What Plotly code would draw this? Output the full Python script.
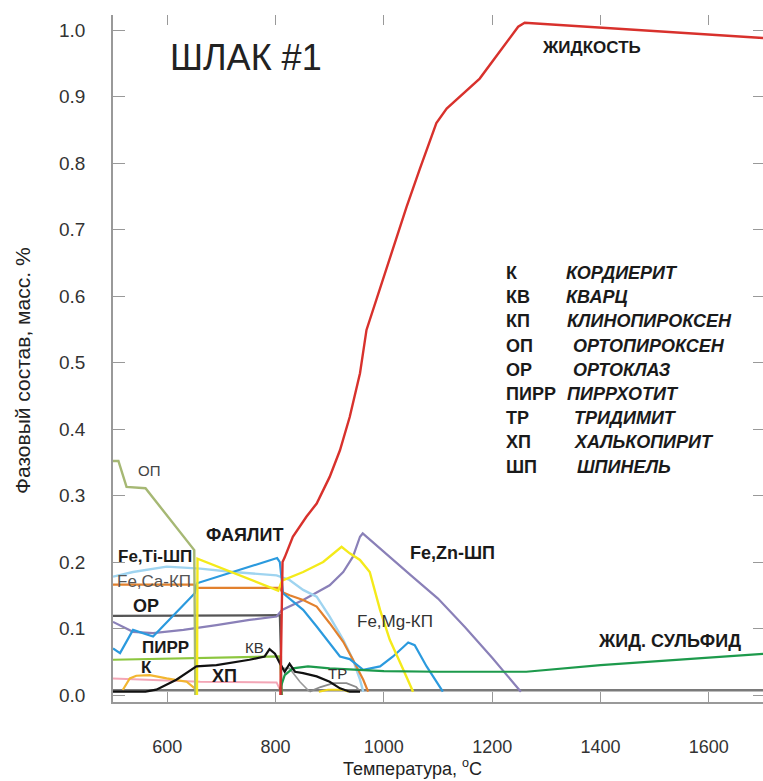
import plotly.graph_objects as go

# ---------------- data (temperature °C, phase fraction) ----------------
T_liquid = [809, 811, 813, 817, 832, 857, 876, 900, 919, 937, 956, 968, 974, 993, 1017, 1042, 1066, 1097, 1116, 1153, 1177, 1248, 1260, 1700]
V_liquid = [0.0, 0.10, 0.200, 0.207, 0.238, 0.268, 0.288, 0.328, 0.368, 0.418, 0.484, 0.549, 0.564, 0.609, 0.669, 0.734, 0.790, 0.860, 0.882, 0.910, 0.927, 1.005, 1.011, 0.988]

T_opx = [500, 510, 525, 560, 650, 651, 652]
V_opx = [0.352, 0.352, 0.313, 0.311, 0.218, 0.10, 0.0]

T_fayalite = [655, 656, 805, 812, 851, 888, 922, 937, 956, 974, 993, 1011, 1036, 1054]
V_fayalite = [0.0, 0.205, 0.157, 0.172, 0.185, 0.200, 0.223, 0.213, 0.203, 0.185, 0.128, 0.083, 0.038, 0.005]

T_femgcpx = [500, 513, 537, 574, 651, 655, 803, 808, 814, 826, 851, 876, 900, 919, 937, 962, 993, 1017, 1045, 1057, 1079, 1097, 1109]
V_femgcpx = [0.070, 0.063, 0.098, 0.088, 0.153, 0.168, 0.206, 0.200, 0.153, 0.145, 0.128, 0.103, 0.078, 0.058, 0.054, 0.038, 0.043, 0.058, 0.079, 0.075, 0.043, 0.020, 0.005]

T_fetisp = [500, 537, 599, 661, 722, 802, 826, 851, 876, 900, 925, 943, 956, 962]
V_fetisp = [0.178, 0.185, 0.193, 0.190, 0.185, 0.180, 0.173, 0.158, 0.148, 0.118, 0.083, 0.053, 0.023, 0.005]

T_fecacpx = [500, 650, 653, 808, 812, 826, 851, 876, 900, 925, 943, 962, 971]
V_fecacpx = [0.166, 0.166, 0.161, 0.161, 0.155, 0.150, 0.143, 0.133, 0.108, 0.080, 0.053, 0.023, 0.005]

T_feznsp = [500, 525, 537, 574, 630, 691, 752, 802, 812, 851, 900, 925, 943, 956, 961, 1050, 1100, 1150, 1200, 1253]
V_feznsp = [0.110, 0.100, 0.095, 0.093, 0.098, 0.105, 0.113, 0.118, 0.128, 0.143, 0.165, 0.185, 0.208, 0.238, 0.243, 0.180, 0.145, 0.102, 0.056, 0.005]

T_sulfide = [808, 817, 832, 860, 900, 1000, 1100, 1263, 1400, 1550, 1700]
V_sulfide = [0.0075, 0.030, 0.040, 0.043, 0.040, 0.036, 0.035, 0.035, 0.045, 0.054, 0.062]

T_pyrr = [500, 808, 810, 812]
V_pyrr = [0.053, 0.058, 0.030, 0.0]

T_chp = [500, 560, 580, 617, 654, 691, 752, 780, 789, 799, 808, 817, 826, 836, 851, 876, 900, 919, 937, 956]
V_chp = [0.005, 0.005, 0.008, 0.023, 0.043, 0.045, 0.053, 0.058, 0.069, 0.062, 0.048, 0.035, 0.047, 0.035, 0.033, 0.028, 0.020, 0.010, 0.005, 0.005]

T_ortho = [500, 808, 810, 811]
V_ortho = [0.119, 0.120, 0.060, 0.0]

T_pink = [500, 568, 661, 802, 810]
V_pink = [0.025, 0.023, 0.020, 0.019, 0.005]

T_cord = [518, 531, 543, 568, 599, 636, 651]
V_cord = [0.0075, 0.025, 0.029, 0.030, 0.025, 0.020, 0.010]

T_grey2 = [808, 826, 845, 863]
V_grey2 = [0.040, 0.040, 0.020, 0.005]

T_trid = [863, 883, 907, 931, 949, 956]
V_trid = [0.005, 0.012, 0.018, 0.018, 0.012, 0.005]

T_yel2 = [880, 897, 925, 935]
V_yel2 = [0.005, 0.008, 0.008, 0.005]

T_base = [500, 1700]
V_base = [0.007, 0.007]

x_ticks = [600, 800, 1000, 1200, 1400, 1600]
y_ticks = [0.0, 0.1, 0.2, 0.3, 0.4, 0.5, 0.6, 0.7, 0.8, 0.9, 1.0]

abbr = ["К", "КВ", "КП", "ОП", "ОР", "ПИРР", "ТР", "ХП", "ШП"]
names = ["КОРДИЕРИТ", "КВАРЦ", "КЛИНОПИРОКСЕН", "ОРТОПИРОКСЕН", "ОРТОКЛАЗ",
         "ПИРРХОТИТ", "ТРИДИМИТ", "ХАЛЬКОПИРИТ", "ШПИНЕЛЬ"]

FONT = "Liberation Sans, Arial, sans-serif"

fig = go.Figure()

def line(x, y, color, width=2.2):
    fig.add_trace(go.Scatter(x=x, y=y, mode="lines", line=dict(color=color, width=width),
                             showlegend=False, hoverinfo="skip"))

line(T_base, V_base, "#7a7a7a", 2.5)
line(T_pink, V_pink, "#f3a6b6", 2)
line(T_cord, V_cord, "#f2b630", 2.2)
line(T_grey2, V_grey2, "#9a9a9a", 1.6)
line(T_trid, V_trid, "#8a8a8a", 1.8)
line(T_yel2, V_yel2, "#f2d81a", 2)
line(T_pyrr, V_pyrr, "#8cc63e", 2.2)
line(T_ortho, V_ortho, "#555555", 2.2)
line(T_feznsp, V_feznsp, "#8a80b8", 2.2)
line(T_fetisp, V_fetisp, "#9fd4f0", 2.4)
line(T_fecacpx, V_fecacpx, "#e2812e", 2.2)
line(T_femgcpx, V_femgcpx, "#2b9ade", 2.2)
line(T_opx, V_opx, "#a6b874", 2.4)
line(T_fayalite, V_fayalite, "#f4ea1a", 2.4)
line(T_sulfide, V_sulfide, "#1d9a4c", 2.2)
line(T_chp, V_chp, "#111111", 2.2)
line(T_liquid, V_liquid, "#d8312c", 2.4)

# dummy trace for mirrored tick axes
fig.add_trace(go.Scatter(x=[None], y=[None], xaxis="x2", yaxis="y2", showlegend=False, hoverinfo="skip"))

ann = []
def label(x, y, text, size=17, bold=True, color="#1a1a1a", xanchor="center", italic=False):
    t = text
    if italic:
        t = "<i>" + t + "</i>"
    if bold:
        t = "<b>" + t + "</b>"
    ann.append(dict(x=x, y=y, xref="x", yref="y", text=t, showarrow=False, xanchor=xanchor,
                    yanchor="middle", borderpad=0, font=dict(family=FONT, size=size, color=color)))

label(745, 0.959, "ШЛАК #1", size=36, bold=False, color="#222")
label(1384, 0.973, "ЖИДКОСТЬ", size=17)
label(566, 0.338, "ОП", size=15, bold=False, color="#444")
label(743, 0.241, "ФАЯЛИТ", size=18)
label(577, 0.209, "Fe,Ti-ШП", size=17)
label(575, 0.170, "Fe,Ca-КП", size=17, bold=False, color="#555")
label(560, 0.134, "ОР", size=18)
label(597, 0.071, "ПИРР", size=17)
label(562, 0.041, "К", size=17)
label(706, 0.029, "ХП", size=18)
label(762, 0.072, "КВ", size=15, bold=False, color="#333")
label(915, 0.032, "ТР", size=15, bold=False, color="#333")
label(1020, 0.111, "Fe,Mg-КП", size=17, bold=False, color="#333")
label(1127, 0.214, "Fe,Zn-ШП", size=18)
label(1528, 0.081, "ЖИД. СУЛЬФИД", size=18)

name_x = [1334, 1334, 1337, 1347, 1347, 1336, 1349, 1349, 1354]
for i, (a, n) in enumerate(zip(abbr, names)):
    yv = (695 - (273 + 24.2 * i)) / 665
    label(1224, yv, a, size=18, xanchor="left")
    label(name_x[i], yv, n, size=18, italic=True, xanchor="left")

# axis titles
ann.append(dict(x=0.0, y=0.5, xref="paper", yref="paper", text="Фазовый состав, масс. %",
                textangle=-90, showarrow=False, xshift=-104, yshift=-12,
                font=dict(family=FONT, size=21, color="#222")))
ann.append(dict(x=0.46, y=0.0, xref="paper", yref="paper", text="Температура, <sup>o</sup>C",
                showarrow=False, yshift=-79, font=dict(family=FONT, size=18, color="#222")))

fig.update_layout(
    width=763, height=781,
    margin=dict(l=113, r=0, t=15, b=79),
    paper_bgcolor="white", plot_bgcolor="white",
    annotations=ann,
    xaxis=dict(range=[500, 1700], tickvals=x_ticks, ticks="inside", ticklen=10, tickcolor="#999",
               showline=True, linecolor="#999", linewidth=1.5, showgrid=False, zeroline=False,
               tickfont=dict(family=FONT, size=18, color="#333"), ticklabelstandoff=28),
    yaxis=dict(range=[-0.0105, 1.0226], tickvals=y_ticks, tickformat=".1f", ticks="inside",
               ticklen=12, tickcolor="#999", showline=True, linecolor="#999", linewidth=1.5,
               showgrid=False, zeroline=False,
               tickfont=dict(family=FONT, size=19, color="#333"), ticklabelstandoff=22),
    xaxis2=dict(range=[500, 1700], tickvals=x_ticks, ticks="inside", ticklen=10, tickcolor="#999",
                overlaying="x", side="top", showline=False, showticklabels=False, showgrid=False,
                zeroline=False),
    yaxis2=dict(range=[-0.0105, 1.0226], tickvals=y_ticks, ticks="inside", ticklen=10,
                tickcolor="#999", overlaying="y", side="right", showline=False,
                showticklabels=False, showgrid=False, zeroline=False),
)

fig.write_html("out.html")
